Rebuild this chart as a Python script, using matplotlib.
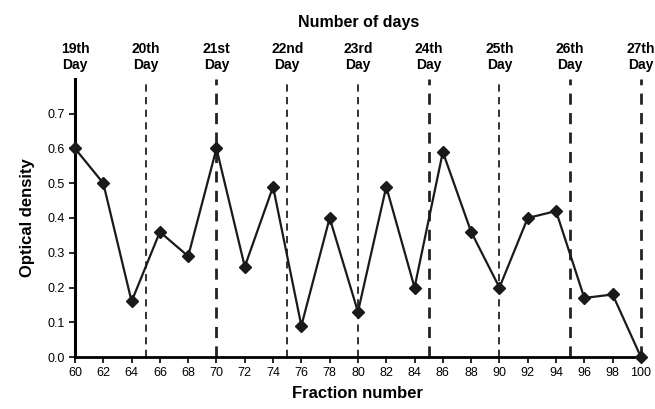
import matplotlib.pyplot as plt
import numpy as np

plt.rcParams['font.family'] = ['Liberation Sans', 'DejaVu Sans']

fraction = [60, 62, 64, 66, 68, 70, 72, 74, 76, 78, 80, 82, 84, 86, 88, 90, 92, 94, 96, 98, 100]
density = [0.60, 0.50, 0.16, 0.36, 0.29, 0.60, 0.26, 0.49, 0.09, 0.40, 0.13,
           0.49, 0.20, 0.59, 0.36, 0.20, 0.40, 0.42, 0.17, 0.18, 0.0]
day_pos = [60, 65, 70, 75, 80, 85, 90, 95, 100]
day_labels = ['19th\nDay', '20th\nDay', '21st\nDay', '22nd\nDay', '23rd\nDay',
              '24th\nDay', '25th\nDay', '26th\nDay', '27th\nDay']
thick_days = [70, 85, 95, 100]

fig = plt.figure(figsize=(6.55, 4.09), dpi=100)
ax = fig.add_axes([0.1145, 0.127, 0.864, 0.68])

# day separators
for d in day_pos[1:]:
    lw = 2.0 if d in thick_days else 1.3
    ax.axvline(d, color='#222222', linestyle=(0, (4, 3)), linewidth=lw,
               zorder=1, clip_on=False)

ax.plot(fraction, density, color='#1a1a1a', linewidth=1.6, marker='D',
        markersize=6.5, markerfacecolor='#1a1a1a', markeredgecolor='#1a1a1a',
        zorder=3, clip_on=False)

ax.set_xlim(60, 100)
ax.set_ylim(0, 0.8)
ax.set_xticks(np.arange(60, 101, 2))
ax.set_yticks(np.arange(0, 0.71, 0.1))
ax.set_yticklabels(['%.1f' % v for v in np.arange(0, 0.71, 0.1)])
ax.tick_params(labelsize=9, direction='out', length=4, width=1.2)

ax.spines['top'].set_visible(False)
ax.spines['right'].set_visible(False)
ax.spines['left'].set_linewidth(2.2)
ax.spines['bottom'].set_linewidth(2.0)

ax.set_xlabel('Fraction number', fontsize=12, fontweight='bold', labelpad=5)
ax.set_ylabel('Optical density', fontsize=12, fontweight='bold', labelpad=9)

for d, lab in zip(day_pos, day_labels):
    ax.text(d, 1.025, lab, transform=ax.get_xaxis_transform(), ha='center',
            va='bottom', fontsize=10, fontweight='bold', linespacing=1.2)

fig.text(0.548, 0.945, 'Number of days', ha='center', va='center',
         fontsize=11.5, fontweight='bold')

fig.savefig('out.png', dpi=100)
